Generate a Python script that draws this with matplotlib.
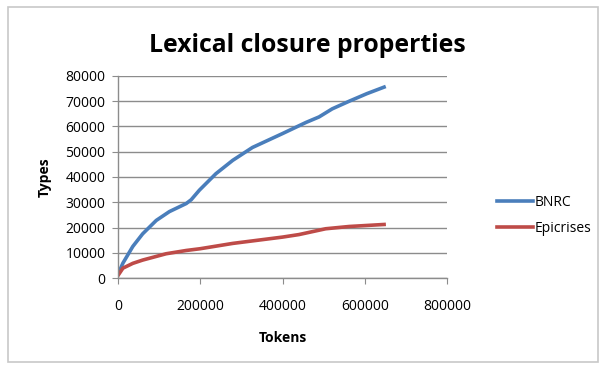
import matplotlib.pyplot as plt
from matplotlib.patches import Rectangle

# values
bnrc_tokens = [0, 12000, 36000, 60000, 93000, 125000, 166000, 178000, 198000, 238000,
               279000, 327000, 400000, 457000, 489000, 521000, 562000, 605000, 647000]
bnrc_types = [1500, 5900, 12500, 17500, 22800, 26300, 29500, 31000, 34800, 41300,
              46600, 51700, 57200, 61600, 63800, 67000, 70000, 73000, 75600]

epi_tokens = [0, 12000, 36000, 60000, 117000, 166000, 200000, 279000, 400000,
              440000, 505000, 562000, 647000]
epi_types = [1000, 3900, 5800, 7100, 9600, 10900, 11600, 13700, 16200,
             17200, 19500, 20400, 21200]

xticks = [0, 200000, 400000, 600000, 800000]
yticks = [0, 10000, 20000, 30000, 40000, 50000, 60000, 70000, 80000]

font = 'Open Sans'
grey = '#8c8c8c'

fig = plt.figure(figsize=(6.04, 3.67), dpi=100)
fig.patch.set_facecolor('white')
fig.patches.append(Rectangle((8/604, 5/367), 590/604, 355/367, transform=fig.transFigure,
                             fill=False, edgecolor='#c8c8c8', linewidth=1.2))

ax = fig.add_axes([118/604, 1 - 278/367, 329/604, 202/367])
ax.plot(bnrc_tokens, bnrc_types, color='#4a7ebb', linewidth=2.6, label='BNRC')
ax.plot(epi_tokens, epi_types, color='#be4b48', linewidth=2.6, label='Epicrises')

ax.set_xlim(0, 800000)
ax.set_ylim(0, 80000)
ax.set_xticks(xticks)
ax.set_yticks(yticks)
ax.set_xticklabels([str(v) for v in xticks], fontfamily=font, fontsize=10)
ax.set_yticklabels([str(v) for v in yticks], fontfamily=font, fontsize=10)
ax.yaxis.grid(True, color=grey, linewidth=1)
ax.set_axisbelow(True)
for s in ['top', 'right']:
    ax.spines[s].set_visible(False)
for s in ['left', 'bottom']:
    ax.spines[s].set_color(grey)
    ax.spines[s].set_linewidth(1)
ax.tick_params(axis='x', direction='out', length=4, color=grey, pad=11)
ax.tick_params(axis='y', direction='out', length=4, color=grey, pad=5)

ax.set_xlabel('Tokens', fontfamily=font, fontweight='bold', fontsize=10, labelpad=12)
ax.set_ylabel('Types', fontfamily=font, fontweight='bold', fontsize=10, labelpad=10)

fig.text(307/604, 1 - 45/367, 'Lexical closure properties', ha='center', va='center',
         fontfamily=font, fontweight='bold', fontsize=17.8)

ax.legend(loc='center left', bbox_to_anchor=(1.115, 0.31), frameon=False,
          prop={'family': font, 'size': 10}, handlelength=2.6, handletextpad=0.05,
          labelspacing=0.75)

fig.savefig('out.png', dpi=100)
